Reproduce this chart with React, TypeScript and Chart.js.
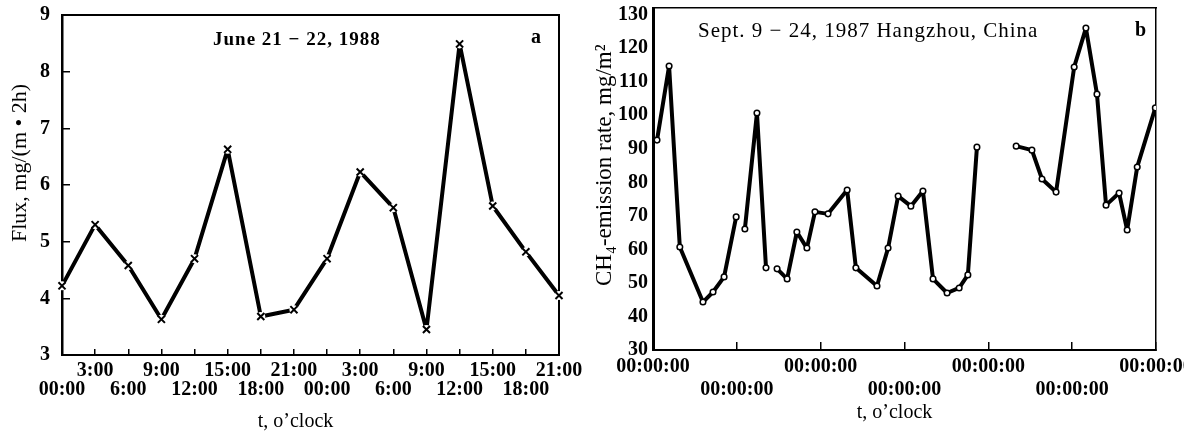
import React, { useEffect, useRef } from 'react';
import { Chart, registerables } from 'chart.js';

Chart.register(...registerables);

const SERIF = '"Liberation Serif", "Times New Roman", serif';

// ---------- Panel a: flux, June 21-22, 1988 ----------
const fluxTimeLabels = [
  '00:00', '3:00', '6:00', '9:00', '12:00', '15:00', '18:00', '21:00',
  '00:00', '3:00', '6:00', '9:00', '12:00', '15:00', '18:00', '21:00',
];
const fluxValues = [4.22, 5.3, 4.58, 3.63, 4.7, 6.63, 3.68, 3.8, 4.7, 6.23, 5.6, 3.45, 8.49, 5.63, 4.82, 4.05];
const fluxAxisMin = 3;
const fluxAxisMax = 9;
const panelATitle = 'June 21 − 22, 1988';
const panelATag = 'a';
const panelAYTitle = 'Flux, mg/(m • 2h)';

// ---------- Panel b: CH4 emission, Sept. 9-24, 1987 ----------
const emissionTickLabels = ['00:00:00', '00:00:00', '00:00:00', '00:00:00', '00:00:00', '00:00:00', '00:00:00'];
const seg1Days = [0.12, 0.48, 0.8, 1.49, 1.79, 2.12, 2.48];
const seg1Values = [92.6, 114.7, 60.7, 44.3, 47.3, 51.8, 69.7];
const seg2Days = [2.74, 3.1, 3.37];
const seg2Values = [66.1, 100.7, 54.5];
const seg3Days = [3.7, 4.0, 4.29, 4.59, 4.83, 5.22, 5.79, 6.05, 6.68, 7.01, 7.31, 7.69, 8.05, 8.35, 8.77, 9.13, 9.39, 9.66];
const seg3Values = [54.2, 51.2, 65.2, 60.4, 71.2, 70.6, 77.7, 54.5, 49.1, 60.4, 75.9, 72.9, 77.4, 51.2, 47.0, 48.5, 52.4, 90.5];
const seg4Days = [10.83, 11.3, 11.6, 12.02, 12.56, 12.91, 13.24, 13.51, 13.9, 14.14, 14.44, 14.98];
const seg4Values = [90.8, 89.6, 81.0, 77.1, 114.4, 126.0, 106.3, 73.2, 76.8, 65.8, 84.6, 102.2];
const emissionAxisMin = 30;
const emissionAxisMax = 132;
const panelBTitle = 'Sept. 9 − 24, 1987 Hangzhou, China';
const panelBTag = 'b';
const panelBYTitle = 'CH₄-emission rate, mg/m²';
const xTitle = 't, o’clock';

type TextItem = { text: string; dx: number; dy: number; font: string; spacing?: string };

const panelTextPlugin = (items: TextItem[]) => ({
  id: 'panelText',
  afterDraw(chart: any) {
    const { ctx, chartArea } = chart;
    ctx.save();
    ctx.fillStyle = '#000';
    ctx.textBaseline = 'middle';
    ctx.textAlign = 'left';
    for (const it of items) {
      ctx.font = it.font;
      (ctx as any).letterSpacing = it.spacing || '0px';
      ctx.fillText(it.text, chartArea.left + it.dx, chartArea.top + it.dy);
    }
    ctx.restore();
  },
});

const frameAxes = (width: number) => ({
  xTop: {
    type: 'linear',
    position: 'top',
    display: true,
    ticks: { display: false },
    grid: { display: false, drawTicks: false },
    border: { display: true, color: '#000', width },
    afterFit: (s: any) => { s.height = 0; s.paddingLeft = 0; s.paddingRight = 0; },
  },
  yRight: {
    type: 'linear',
    position: 'right',
    display: true,
    ticks: { display: false },
    grid: { display: false, drawTicks: false },
    border: { display: true, color: '#000', width },
    afterFit: (s: any) => { s.width = 0; s.paddingTop = 0; s.paddingBottom = 0; },
  },
});

export default function App() {
  const leftRef = useRef<HTMLCanvasElement>(null);
  const rightRef = useRef<HTMLCanvasElement>(null);

  useEffect(() => {
    const common = {
      responsive: false,
      animation: false as const,
      devicePixelRatio: 1,
      events: [] as any[],
      plugins: { legend: { display: false }, tooltip: { enabled: false }, title: { display: false } },
    };

    const chartA = new Chart(leftRef.current as HTMLCanvasElement, {
      type: 'line',
      data: {
        labels: fluxTimeLabels,
        datasets: [
          {
            data: fluxValues,
            showLine: false,
            pointStyle: 'crossRot',
            pointRadius: 5,
            pointBorderWidth: 2,
            pointBorderColor: '#000',
            borderColor: '#000',
          },
          {
            data: fluxValues,
            borderColor: '#000',
            borderWidth: 4,
            borderJoinStyle: 'round',
            borderCapStyle: 'round',
            tension: 0,
            pointRadius: 4.5,
            pointBorderWidth: 0,
            pointBackgroundColor: '#fff',
            pointBorderColor: '#fff',
          },
        ],
      },
      options: {
        ...common,
        layout: { padding: { top: 15, right: 41, bottom: 0, left: 0 } },
        scales: {
          x: {
            type: 'category',
            offset: false,
            grid: { display: true, drawOnChartArea: false, drawTicks: true, tickLength: -6, color: '#000', lineWidth: 1.5 },
            border: { display: true, color: '#000', width: 2 },
            ticks: {
              autoSkip: false,
              maxRotation: 0,
              minRotation: 0,
              padding: 12.5,
              color: '#000',
              font: { family: SERIF, size: 20, weight: 'bold', lineHeight: 0.95 },
              callback: (_v: any, i: number) => (i % 2 === 1 ? [fluxTimeLabels[i], ''] : ['', fluxTimeLabels[i]]),
            },
            title: {
              display: true,
              text: xTitle + '\u2003\u2002',
              color: '#000',
              font: { family: SERIF, size: 20 },
              padding: { top: 0, bottom: 0 },
            },
            afterFit: (s: any) => { s.height = 79; s.paddingLeft = 0; s.paddingRight = 0; },
          },
          y: {
            type: 'linear',
            min: fluxAxisMin,
            max: fluxAxisMax,
            ticks: { stepSize: 1, padding: 20, color: '#000', font: { family: SERIF, size: 20, weight: 'bold' } },
            grid: { display: true, drawOnChartArea: false, drawTicks: true, tickLength: -8, color: '#000', lineWidth: 1.5 },
            border: { display: true, color: '#000', width: 2.5 },
            title: {
              display: true,
              text: '\u2003\u2003' + panelAYTitle,
              color: '#000',
              font: { family: SERIF, size: 22 },
              padding: { top: 7, bottom: 0 },
            },
            afterFit: (s: any) => { s.width = 62; s.paddingTop = 0; s.paddingBottom = 0; },
          },
          ...frameAxes(2),
        } as any,
      },
      plugins: [
        panelTextPlugin([
          { text: panelATitle, dx: 151, dy: 25, font: `bold 19px ${SERIF}`, spacing: '1px' },
          { text: panelATag, dx: 469, dy: 23, font: `bold 20px ${SERIF}` },
        ]),
      ],
    } as any);

    const segStyle = {
      borderColor: '#000',
      borderWidth: 4,
      borderJoinStyle: 'round',
      borderCapStyle: 'round',
      tension: 0,
      pointRadius: 2.8,
      pointBorderWidth: 1.5,
      pointBorderColor: '#000',
      pointBackgroundColor: '#fff',
    };
    const toXY = (days: number[], vals: number[]) => days.map((d, i) => ({ x: d, y: vals[i] }));

    const chartB = new Chart(rightRef.current as HTMLCanvasElement, {
      type: 'line',
      data: {
        datasets: [
          { data: toXY(seg1Days, seg1Values), ...segStyle },
          { data: toXY(seg2Days, seg2Values), ...segStyle },
          { data: toXY(seg3Days, seg3Values), ...segStyle },
          { data: toXY(seg4Days, seg4Values), ...segStyle },
        ],
      },
      options: {
        ...common,
        layout: { padding: { top: 8, right: 28, bottom: 0, left: 0 } },
        scales: {
          x: {
            type: 'linear',
            min: 0,
            max: 15,
            grid: { display: true, drawOnChartArea: false, drawTicks: true, tickLength: -8, color: '#000', lineWidth: 1.5 },
            border: { display: true, color: '#000', width: 2 },
            ticks: {
              stepSize: 2.5,
              autoSkip: false,
              maxRotation: 0,
              minRotation: 0,
              padding: 13.5,
              color: '#000',
              font: { family: SERIF, size: 20, weight: 'bold', lineHeight: 1.15 },
              callback: (_v: any, i: number) => (i % 2 === 0 ? [emissionTickLabels[i], ''] : ['', emissionTickLabels[i]]),
            },
            title: {
              display: true,
              text: xTitle + '\u2003',
              color: '#000',
              font: { family: SERIF, size: 20 },
              padding: { top: 0, bottom: 9 },
            },
            afterFit: (s: any) => { s.height = 84; s.paddingLeft = 0; s.paddingRight = 0; },
          },
          y: {
            type: 'linear',
            min: emissionAxisMin,
            max: emissionAxisMax,
            ticks: { stepSize: 10, includeBounds: false, padding: 5, color: '#000', font: { family: SERIF, size: 20, weight: 'bold' } },
            grid: { display: false, drawTicks: false },
            border: { display: true, color: '#000', width: 3 },
            title: {
              display: true,
              text: '\u2003\u2009' + panelBYTitle,
              color: '#000',
              font: { family: SERIF, size: 23 },
              padding: { top: 11, bottom: 0 },
            },
            afterFit: (s: any) => { s.width = 73; s.paddingTop = 0; s.paddingBottom = 0; },
          },
          ...frameAxes(1.5),
        } as any,
      },
      plugins: [
        panelTextPlugin([
          { text: panelBTitle, dx: 45, dy: 23, font: `21px ${SERIF}`, spacing: '1px' },
          { text: panelBTag, dx: 482, dy: 23, font: `bold 20px ${SERIF}` },
        ]),
      ],
    } as any);

    return () => {
      chartA.destroy();
      chartB.destroy();
    };
  }, []);

  return (
    <div style={{ position: 'fixed', left: 0, top: 0, width: 1184, height: 434, overflow: 'hidden', background: '#fff' }}>
      <canvas ref={leftRef} width={600} height={434} style={{ position: 'absolute', left: 0, top: 0, width: 600, height: 434 }} />
      <canvas ref={rightRef} width={604} height={434} style={{ position: 'absolute', left: 580, top: 0, width: 604, height: 434 }} />
    </div>
  );
}
